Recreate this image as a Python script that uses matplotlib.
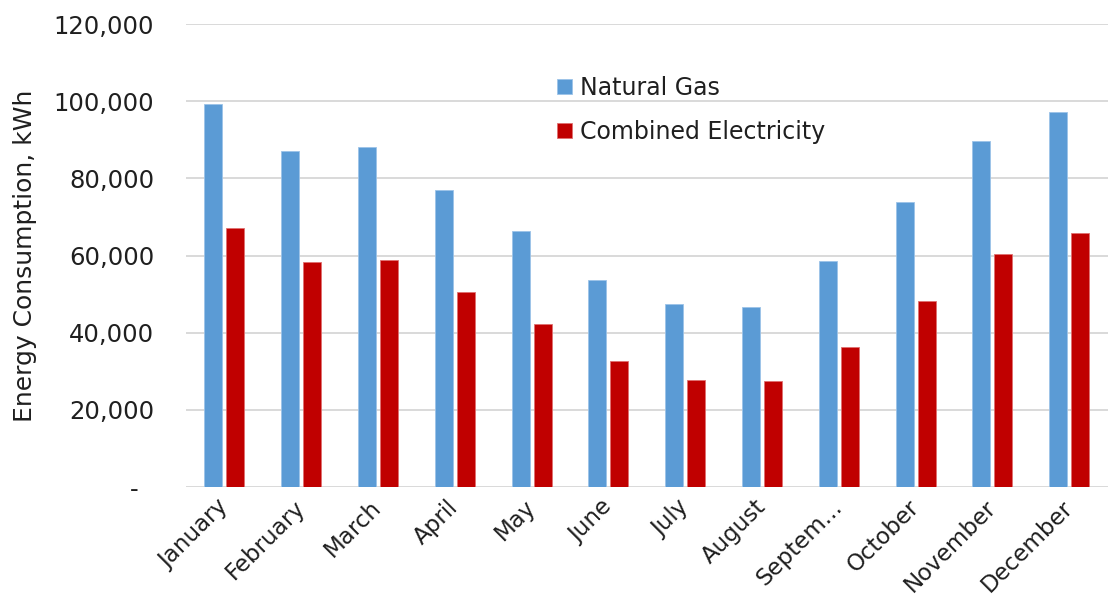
import matplotlib
matplotlib.use("Agg")
import matplotlib.pyplot as plt
import numpy as np
from matplotlib.ticker import FuncFormatter, MultipleLocator

months = ["January", "February", "March", "April", "May", "June", "July",
          "August", "Septem...", "October", "November", "December"]
natural_gas = [99300, 87100, 88100, 77000, 66400, 53700, 47500, 46800,
               58600, 74000, 89700, 97300]
combined_electricity = [67100, 58300, 58900, 50500, 42200, 32600, 27800,
                        27500, 36400, 48200, 60400, 65800]

plt.rcParams["font.family"] = ["DejaVu Sans"]
text_color = "#1f1f1f"

fig = plt.figure(figsize=(11.11, 6.05), dpi=100)
ax = fig.add_axes([0.1674, 0.195, 0.8296, 0.765])

x = np.arange(len(months))
width = 0.234
offset = 0.143
ax.bar(x - offset, natural_gas, width, color="#5B9BD5", edgecolor="#9cc3e8",
       linewidth=0.6, label="Natural Gas", zorder=3)
ax.bar(x + offset, combined_electricity, width, color="#C00000",
       edgecolor="#e07070", linewidth=0.6, label="Combined Electricity", zorder=3)

ax.set_xlim(-0.5, len(months) - 0.5)
ax.set_ylim(0, 120000)
ax.yaxis.set_major_locator(MultipleLocator(20000))
ax.yaxis.set_major_formatter(
    FuncFormatter(lambda v, p: "-  " if v == 0 else f"{v:,.0f}"))
ax.grid(axis="y", color="#d9d9d9", linewidth=1.4, zorder=0)
ax.set_axisbelow(True)

for s in ["top", "right", "left", "bottom"]:
    ax.spines[s].set_visible(False)

ax.tick_params(axis="both", length=0, colors=text_color, labelsize=17.5)
ax.tick_params(axis="y", pad=23)
ax.set_xticks(x)
ax.set_xticklabels(months, rotation=45, ha="right", va="center",
                   rotation_mode="anchor", fontsize=16.5)
ax.tick_params(axis="x", pad=12)

ax.set_ylabel("Energy Consumption, kWh", fontsize=18, color=text_color,
              labelpad=12)

ax.legend(loc="upper left", bbox_to_anchor=(0.38, 0.935), frameon=False,
          fontsize=17, handlelength=0.6, handleheight=0.6,
          handletextpad=0.35, labelspacing=0.85, labelcolor=text_color)

fig.savefig("out.png", dpi=100)
